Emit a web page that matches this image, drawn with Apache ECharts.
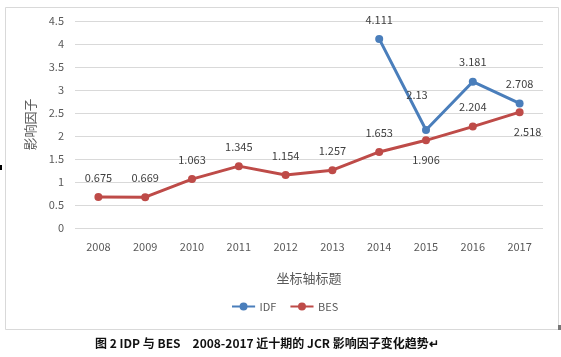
<!DOCTYPE html>
<html>
<head>
<meta charset="utf-8">
<script src="https://cdn.jsdelivr.net/npm/echarts@6/dist/echarts.min.js"></script>
<style>html,body{margin:0;padding:0;background:#fff;}#c{width:561px;height:357px;}</style>
</head>
<body>
<div id="c"></div>
<script>
const categories = ['2008','2009','2010','2011','2012','2013','2014','2015','2016','2017'];
const idfValues = [null,null,null,null,null,null,4.111,2.13,3.181,2.708];
const besValues = [0.675,0.669,1.063,1.345,1.154,1.257,1.653,1.906,2.204,2.518];
const yTicks = {min:0,max:4.5,interval:0.5};
const besLabelBelow = [false,false,false,false,false,false,false,true,false,true];

const chart = echarts.init(document.getElementById('c'));
const font = '"Microsoft YaHei","Noto Sans CJK SC","Noto Sans",sans-serif';
const idfData = idfValues.map((v,i)=> i===7 ? {value:v,label:{offset:[-9,-16]}} : v);
const besData = besValues.map((v,i)=>({value:v,label:{position:besLabelBelow[i]?'bottom':'top',offset:i===9?[8,0]:[0,0]}}));
chart.setOption({
  animation:false,
  backgroundColor:'#fff',
  textStyle:{fontFamily:font},
  grid:{left:75,right:18,top:21,bottom:129},
  xAxis:{type:'category',data:categories,boundaryGap:true,
    axisLine:{show:false},axisTick:{show:false},
    axisLabel:{color:'#595959',fontSize:11,margin:13,fontFamily:font},
    name:'坐标轴标题',nameLocation:'middle',nameGap:44,
    nameTextStyle:{color:'#595959',fontSize:13,fontFamily:font}},
  yAxis:{type:'value',min:yTicks.min,max:yTicks.max,interval:yTicks.interval,
    axisLine:{show:false},axisTick:{show:false},
    axisLabel:{color:'#595959',fontSize:11,margin:11,fontFamily:font},
    splitLine:{lineStyle:{color:'#d9d9d9',width:1}},
    name:'影响因子',nameLocation:'middle',nameGap:38,nameRotate:90,
    nameTextStyle:{color:'#595959',fontSize:13,fontFamily:font}},
  legend:{bottom:40,left:227,itemWidth:26,itemHeight:8,itemGap:14,
    textStyle:{color:'#595959',fontSize:11,fontFamily:font,padding:[0,0,0,-2]},
    data:[{name:'IDF',icon:'path://M0,4h26v2h-26z M13,0.5a4.5,4.5 0 1,1 0,9a4.5,4.5 0 1,1 0,-9z'},
          {name:'BES',icon:'path://M0,4h26v2h-26z M13,0.5a4.5,4.5 0 1,1 0,9a4.5,4.5 0 1,1 0,-9z'}]},
  series:[
    {name:'IDF',type:'line',data:idfData,color:'#4a7ebb',
      lineStyle:{width:3,color:'#4a7ebb'},symbol:'circle',symbolSize:8,
      itemStyle:{color:'#4a7ebb'},
      label:{show:true,position:'top',distance:10,color:'#404040',fontSize:11,fontFamily:font}},
    {name:'BES',type:'line',data:besData,color:'#be4b48',
      lineStyle:{width:3,color:'#be4b48'},symbol:'circle',symbolSize:8,
      itemStyle:{color:'#be4b48'},
      label:{show:true,position:'top',distance:10,color:'#404040',fontSize:11,fontFamily:font}}
  ],
  graphic:[
    {type:'rect',shape:{x:5.5,y:7.5,width:553,height:322},style:{fill:'none',stroke:'#d9d9d9',lineWidth:1},z:-1},
    {type:'rect',shape:{x:558,y:325,width:3,height:5},style:{fill:'#777'}},
    {type:'rect',shape:{x:0,y:165,width:2,height:5},style:{fill:'#000'}},
    {type:'text',left:95,top:337,style:{text:'图 2 IDP 与 BES　2008-2017 近十期的 JCR 影响因子变化趋势↵',fill:'#111',font:'bold 12px "Noto Sans CJK SC", sans-serif'}}
  ]
});
</script>
</body>
</html>
